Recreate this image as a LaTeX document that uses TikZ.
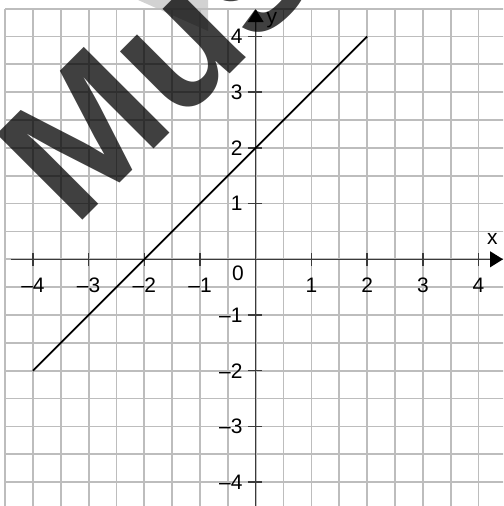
\documentclass[tikz,border=0pt]{standalone}
\usepackage{fontspec}
\setmainfont{Liberation Sans}
\usetikzlibrary{arrows.meta}
\definecolor{gridgrey}{HTML}{BDBDBD}
\definecolor{axisgrey}{HTML}{3A3A3A}
\tikzset{
  >={Triangle[length=2.3mm,width=2.8mm,color=black]},
  font=\fontsize{10.7}{12}\selectfont,
  gridline/.style={draw=gridgrey,line width=0.9pt},
  axis/.style={->,draw=axisgrey,line width=0.75pt},
  tickmark/.style={draw=axisgrey,line width=0.75pt},
  xlab/.style={inner sep=0pt,anchor=center},
  ylab/.style={inner sep=0pt,anchor=east},
  graphline/.style={draw=black,line width=0.9pt},
  stamp/.style={rotate=45,anchor=base west,inner sep=0pt,text=black,
                text opacity=0.75,font=\fontsize{90}{90}\selectfont\bfseries},
}

\begin{document}
\begin{tikzpicture}
  \useasboundingbox (-4.591,-4.429) rectangle (4.440,4.655);
  \clip (-4.591,-4.429) rectangle (4.440,4.655);

  % faint wedge behind the stamp
  \fill[gray!35] (-2.113,4.655) -- (-0.856,4.655) -- (-0.856,4.099) -- cycle;

  % squared paper
  \draw[gridline] (-4.5,-4.5) grid[step=0.5] (4.5,4.5);

  % axes
  \draw[axis] (-4.39,0) -- (4.44,0);
  \draw[axis] (0,-4.5) -- (0,4.49);
  \node[inner sep=0pt] (xname) at (4.25,0.37) {x};
  \node[inner sep=0pt] (yname) at (0.29,4.30) {y};

  % ticks and numbers
  \foreach \i/\t in {-4/–4,-3/–3,-2/–2,-1/–1,1/1,2/2,3/3,4/4} {
    \draw[tickmark] (\i,-0.12) -- (\i,0.12);
    \node[xlab] (xl\i) at (\i,-0.46) {\t};
    \draw[tickmark] (-0.14,\i) -- (0.12,\i);
    \node[ylab] (yl\i) at (-0.23,\i) {\t};
  }
  \node[xlab] (origin) at (-0.318,-0.246) {0};

  % y = x + 2
  \coordinate (gstart) at (-4,-2);
  \coordinate (gend) at (2,4);
  \draw[graphline] (gstart) -- (gend);

  % watermark
  \node[stamp] (stamp) at (-3.263,0.542) {Muster};
\end{tikzpicture}
\end{document}
